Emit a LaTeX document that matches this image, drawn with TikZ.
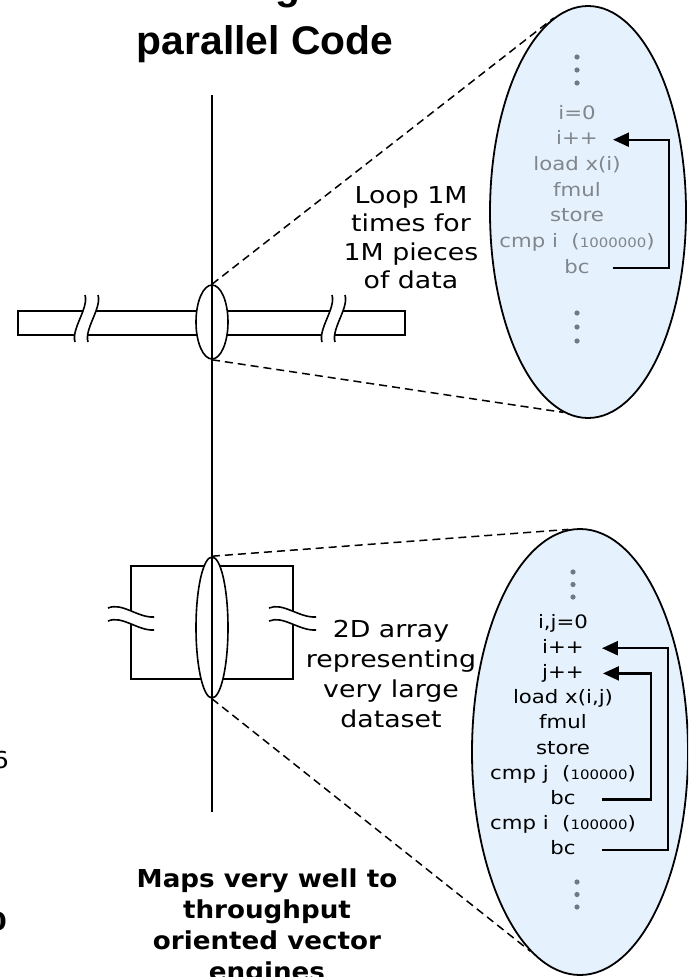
\documentclass[tikz,border=0pt]{standalone}
\usepackage{fontspec}
\usetikzlibrary{shapes.geometric,arrows.meta}
\newfontfamily\bodyf[FakeStretch=1.15]{DejaVu Sans}
\newfontfamily\boldf[FakeStretch=1.06]{DejaVu Sans}
\newfontfamily\titlef[FakeStretch=1.02]{Liberation Sans}
\definecolor{ellfill}{RGB}{229,242,253}
\definecolor{codegray}{RGB}{128,134,140}
\definecolor{dotgray}{RGB}{110,122,135}
\begin{document}
\begin{tikzpicture}[x=1pt,y=1pt,
  outl/.style={draw=black,line width=1.6pt},
  lens/.style={ellipse,draw=black,line width=1.6pt,fill=white,inner sep=0pt},
  zoomell/.style={ellipse,draw=black,line width=1.8pt,fill=ellfill,inner sep=0pt},
  dashln/.style={dash pattern=on 8pt off 5pt,line width=1.5pt},
  loopar/.style={line width=2.3pt,-{Triangle[length=16pt,width=14pt]}},
  code/.style={font=\bodyf\fontsize{18.5}{20}\selectfont,inner sep=0pt,text height=14pt,text depth=4pt},
  codeg/.style={code,text=codegray},
  lbl/.style={font=\bodyf\fontsize{23.3}{28}\selectfont,inner sep=0pt,anchor=base},
  blbl/.style={font=\boldf\bfseries\fontsize{24.7}{30}\selectfont,inner sep=0pt,anchor=base},
  ttl/.style={font=\titlef\bfseries\fontsize{40}{48}\selectfont,inner sep=0pt,anchor=base}
]
\useasboundingbox (0,0) rectangle (688,-977);
\clip (0,0) rectangle (688,-977);

% title
\node[ttl] (t0) at (265,0) {Processing of Data};
\node[ttl] (t1) at (265,-54) {parallel Code};

% top bar with breaks
\draw[outl] (18,-311) rectangle (405,-335);
\fill[white] (85,-295) .. controls (89,-308) and (71,-329) .. (75,-342) -- (88,-342) .. controls (84,-329) and (102,-308) .. (98,-295) -- cycle;
\draw[outl] (85,-295) .. controls (89,-308) and (71,-329) .. (75,-342);
\draw[outl] (98,-295) .. controls (102,-308) and (84,-329) .. (88,-342);
\fill[white] (332,-295) .. controls (336,-308) and (318,-329) .. (322,-342) -- (335,-342) .. controls (331,-329) and (349,-308) .. (345,-295) -- cycle;
\draw[outl] (332,-295) .. controls (336,-308) and (318,-329) .. (322,-342);
\draw[outl] (345,-295) .. controls (349,-308) and (331,-329) .. (335,-342);

% 2D array box with breaks
\draw[outl] (131,-566) rectangle (293,-679);
\fill[white] (108,-608) .. controls (122,-602) and (138,-618) .. (154,-617) -- (154,-630) .. controls (138,-631) and (122,-615) .. (108,-621) -- cycle;
\draw[outl] (108,-608) .. controls (122,-602) and (138,-618) .. (154,-617);
\draw[outl] (108,-621) .. controls (122,-615) and (138,-631) .. (154,-630);
\fill[white] (269,-608) .. controls (283,-602) and (299,-618) .. (316,-617) -- (316,-630) .. controls (299,-631) and (283,-615) .. (269,-621) -- cycle;
\draw[outl] (269,-608) .. controls (283,-602) and (299,-618) .. (316,-617);
\draw[outl] (269,-621) .. controls (283,-615) and (299,-631) .. (316,-630);

% lenses
\node[lens,minimum width=32pt,minimum height=74pt] (L1) at (212,-322) {};
\node[lens,minimum width=32pt,minimum height=141pt] (L2) at (212,-627.5) {};

% vertical axis
\draw[outl] (212,-95) -- (212,-812);

% magnified ellipses
\node[zoomell,minimum width=196pt,minimum height=412pt] (E1) at (588,-212) {};
\node[zoomell,minimum width=216pt,minimum height=446pt] (E2) at (580,-752) {};

% dashed zoom lines
\draw[dashln] (L1.north) -- (E1.100);
\draw[dashln] (L1.south) -- (E1.263);
\draw[dashln] (L2.north) -- (E2.93);
\draw[dashln] (L2.south) -- (E2.256);

% labels
\node[lbl] (m1) at (411,-203) {Loop 1M};
\node[lbl] (m2) at (411,-231.5) {times for};
\node[lbl] (m3) at (411,-260) {1M pieces};
\node[lbl] (m4) at (411,-288.5) {of data};

\node[lbl] (n1) at (391,-637) {2D array};
\node[lbl] (n2) at (391,-667.3) {representing};
\node[lbl] (n3) at (391,-697.6) {very large};
\node[lbl] (n4) at (391,-727.9) {dataset};

\node[blbl] (p1) at (267,-887) {Maps very well to};
\node[blbl] (p2) at (267,-918) {throughput};
\node[blbl] (p3) at (267,-949) {oriented vector};
\node[blbl] (p4) at (267,-980) {engines};

% edge fragments
\node[lbl,anchor=base east] (f1) at (9,-768) {6};
\node[blbl,anchor=base east] (f2) at (7,-930) {0};

% code in ellipse 1
\foreach \yy in {57,70,83,313,327,341} \fill[dotgray] (577,-\yy) circle (2.6);
\node[codeg] (a0) at (577,-114) {i=0};
\node[codeg] (a1) at (577,-139.7) {i++};
\node[codeg] (a2) at (577,-165.4) {load x(i)};
\node[codeg] (a3) at (577,-191.1) {fmul};
\node[codeg] (a4) at (577,-216.8) {store};
\node[codeg] (a5) at (577,-242.5) {cmp i\ \ ({\fontsize{13}{13}\selectfont 1000000})};
\node[codeg] (a6) at (577,-268.2) {bc};
\draw[loopar] ([xshift=23pt]a6.east) -- ++(56,0) |- ([xshift=15pt]a1.east);

% code in ellipse 2
\foreach \yy in {572,584.5,597} \fill[dotgray] (573,-\yy) circle (2.6);
\foreach \yy in {882,894.5,907} \fill[dotgray] (577,-\yy) circle (2.6);
\node[code] (b0) at (563,-623) {i,j=0};
\node[code] (b1) at (563,-648.2) {i++};
\node[code] (b2) at (563,-673.4) {j++};
\node[code] (b3) at (563,-698.6) {load x(i,j)};
\node[code] (b4) at (563,-723.8) {fmul};
\node[code] (b5) at (563,-749) {store};
\node[code] (b6) at (563,-774.2) {cmp j\ \ ({\fontsize{13}{13}\selectfont 100000})};
\node[code] (b7) at (563,-799.4) {bc};
\node[code] (b8) at (563,-824.6) {cmp i\ \ ({\fontsize{13}{13}\selectfont 100000})};
\node[code] (b9) at (563,-849.8) {bc};
\draw[loopar] ([xshift=26pt]b9.east) -- ++(66,0) |- ([xshift=18pt]b1.east);
\draw[loopar] ([xshift=26pt]b7.east) -- ++(49,0) |- ([xshift=19pt]b2.east);
\end{tikzpicture}
\end{document}
